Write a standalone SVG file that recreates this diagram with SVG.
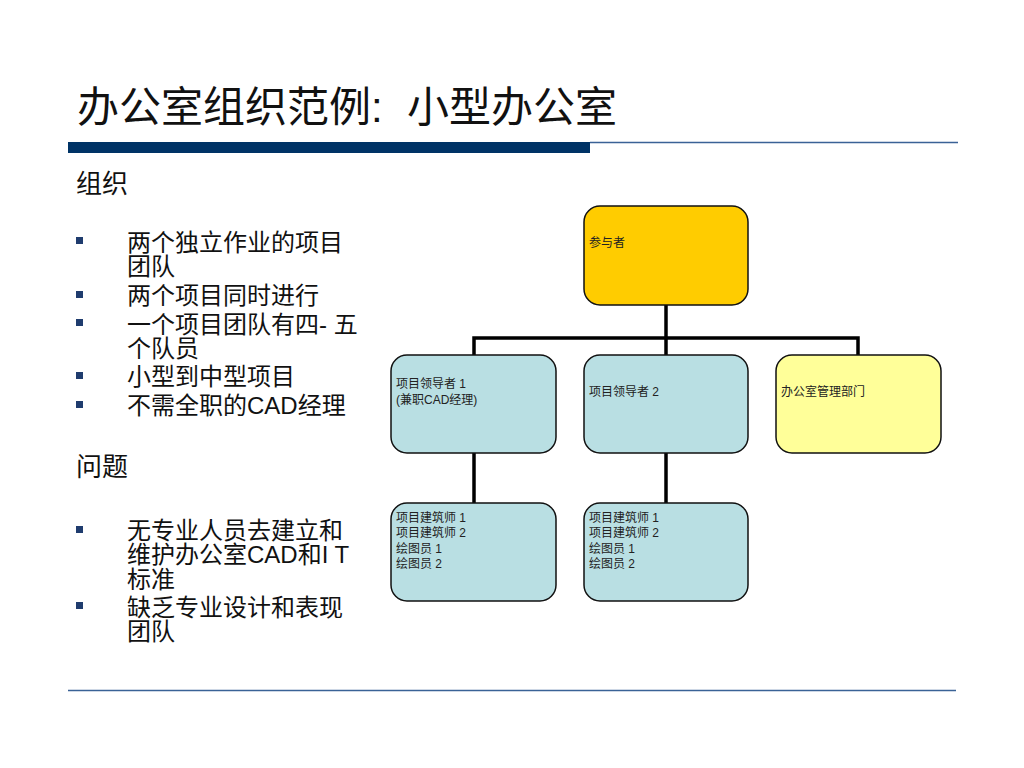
<svg xmlns="http://www.w3.org/2000/svg" width="1024" height="768" viewBox="0 0 1024 768">
<style>
.t{font-family:"Liberation Sans","Noto Sans CJK SC",sans-serif;fill:#111}
.b{font-size:24px}
.h{font-size:26px}
.n{font-size:12px;fill:#222}
.box{stroke:#111;stroke-width:1.5}
.c{stroke:#000;stroke-width:3.5;fill:none}
.sq{fill:#1f3c6e}
</style>
<rect width="1024" height="768" fill="#fff"/>
<g id="header">
<text class="t" x="77" y="122" font-size="42">办公室组织范例:</text>
<text class="t" x="407" y="122" font-size="42">小型办公室</text>
<rect x="68" y="142" width="522" height="11" fill="#003366"/>
<line x1="590" y1="142.5" x2="958" y2="142.5" stroke="#3a6296" stroke-width="1.5"/>
<line x1="68" y1="690.5" x2="956" y2="690.5" stroke="#3a6296" stroke-width="1.5"/>
</g>
<g id="text-left">
<text class="t h" x="76" y="193">组织</text>
<rect class="sq" x="76" y="237" width="7" height="7"/>
<text class="t b" x="127" y="251">两个独立作业的项目</text>
<text class="t b" x="127" y="275">团队</text>
<rect class="sq" x="76" y="291" width="7" height="7"/>
<text class="t b" x="127" y="304">两个项目同时进行</text>
<rect class="sq" x="76" y="319" width="7" height="7"/>
<text class="t b" x="127" y="333">一个项目团队有四- 五</text>
<text class="t b" x="127" y="357">个队员</text>
<rect class="sq" x="76" y="372" width="7" height="7"/>
<text class="t b" x="127" y="385">小型到中型项目</text>
<rect class="sq" x="76" y="401" width="7" height="7"/>
<text class="t b" x="127" y="414">不需全职的CAD经理</text>
<text class="t h" x="76" y="476">问题</text>
<rect class="sq" x="76" y="526" width="7" height="7"/>
<text class="t b" x="127" y="539">无专业人员去建立和</text>
<text class="t b" x="127" y="563">维护办公室CAD和I T</text>
<text class="t b" x="127" y="588">标准</text>
<rect class="sq" x="76" y="602" width="7" height="7"/>
<text class="t b" x="127" y="616">缺乏专业设计和表现</text>
<text class="t b" x="127" y="640">团队</text>
</g>
<g id="connectors">
<line class="c" x1="666" y1="305" x2="666" y2="355"/>
<polyline class="c" points="474,355 474,338 858,338 858,355"/>
<line class="c" x1="474" y1="453" x2="474" y2="503"/>
<line class="c" x1="666" y1="453" x2="666" y2="503"/>
</g>
<g id="node-participants">
<rect class="box" x="584" y="206" width="164" height="99" rx="16" fill="#FFCC00"/>
<text class="t n" x="589" y="247">参与者</text>
</g>
<g id="node-leader1">
<rect class="box" x="391" y="355" width="165" height="98" rx="16" fill="#B9DFE3"/>
<text class="t n" x="396" y="388">项目领导者 1</text>
<text class="t n" x="396" y="404">(兼职CAD经理)</text>
</g>
<g id="node-leader2">
<rect class="box" x="584" y="355" width="164" height="98" rx="16" fill="#B9DFE3"/>
<text class="t n" x="589" y="396">项目领导者 2</text>
</g>
<g id="node-admin">
<rect class="box" x="776" y="355" width="165" height="98" rx="16" fill="#FFFF99"/>
<text class="t n" x="781" y="396">办公室管理部门</text>
</g>
<g id="node-team1">
<rect class="box" x="391" y="503" width="165" height="98" rx="16" fill="#B9DFE3"/>
<text class="t n" x="396" y="522">项目建筑师 1</text>
<text class="t n" x="396" y="537">项目建筑师 2</text>
<text class="t n" x="396" y="553">绘图员 1</text>
<text class="t n" x="396" y="568">绘图员 2</text>
</g>
<g id="node-team2">
<rect class="box" x="584" y="503" width="164" height="98" rx="16" fill="#B9DFE3"/>
<text class="t n" x="589" y="522">项目建筑师 1</text>
<text class="t n" x="589" y="537">项目建筑师 2</text>
<text class="t n" x="589" y="553">绘图员 1</text>
<text class="t n" x="589" y="568">绘图员 2</text>
</g>
</svg>
